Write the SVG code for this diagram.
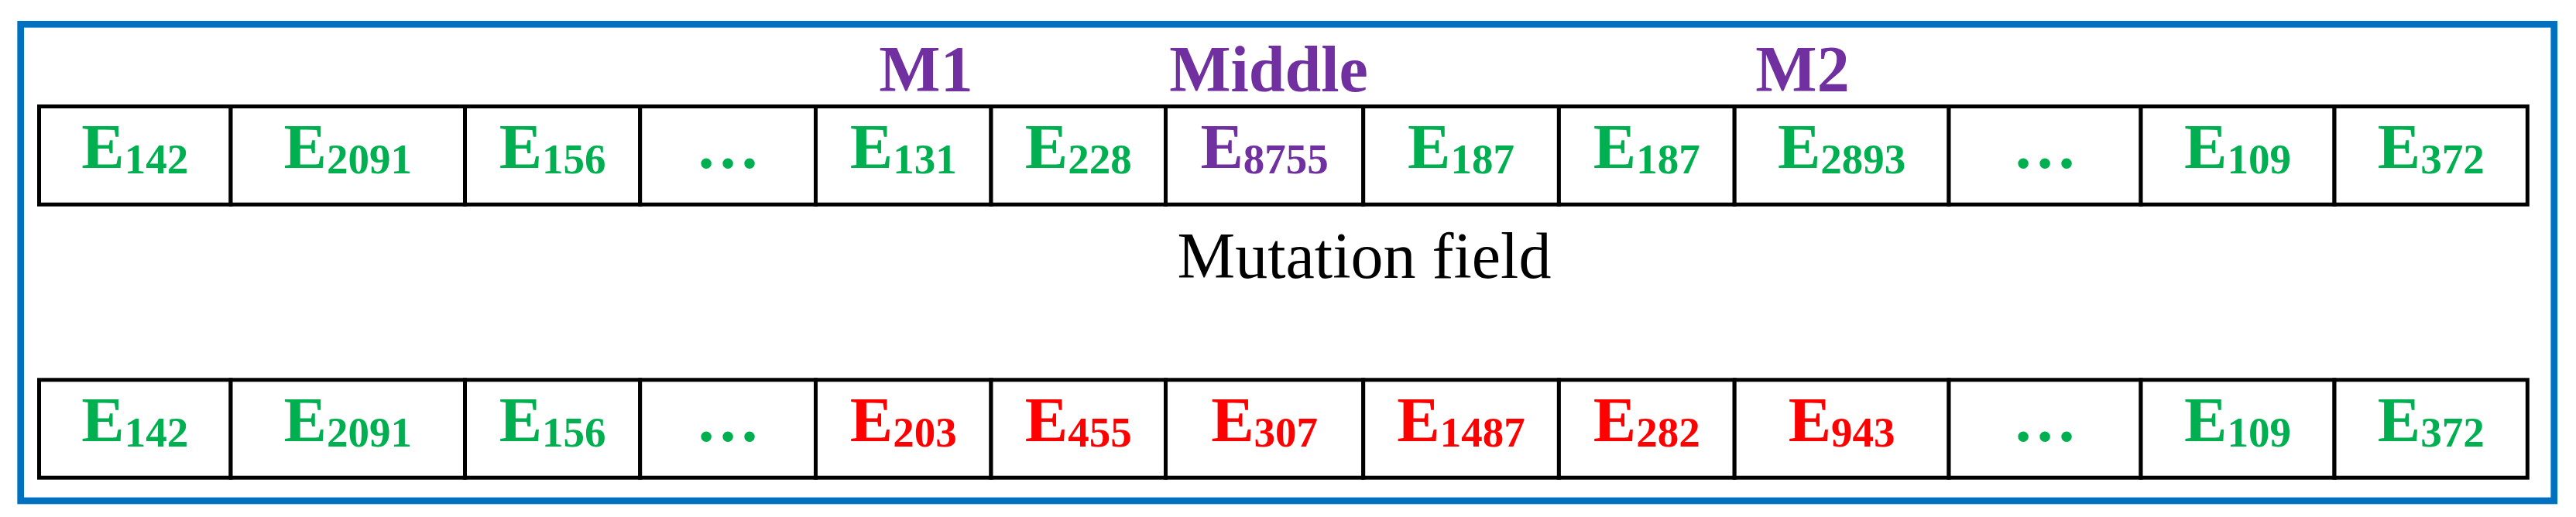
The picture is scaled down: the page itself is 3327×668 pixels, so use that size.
<svg xmlns="http://www.w3.org/2000/svg" width="3327" height="668" viewBox="0 0 3327 668">
<style>
.cell{fill:#FFFFFF;stroke:#000000;stroke-width:5}
.e{font-family:"Liberation Serif","Times New Roman",serif;font-weight:bold;font-size:83px;text-anchor:middle}
.sub{font-size:55px}
.g{fill:#00B050}
.r{fill:#FF0000}
.p{fill:#7030A0}
.lbl{font-family:"Liberation Serif","Times New Roman",serif;font-weight:bold;font-size:84px;text-anchor:middle;fill:#7030A0}
.cap{font-family:"Liberation Serif","Times New Roman",serif;font-size:84px;text-anchor:middle;fill:#000000}
</style>
<rect width="3327" height="668" fill="#FFFFFF"/>
<rect id="frame" x="26.7" y="31.3" width="3272" height="615.7" fill="none" stroke="#0070C0" stroke-width="8.7"/>
<g id="labels">
<text class="lbl" x="1196" y="118">M1</text>
<text class="lbl" x="1638.5" y="118">Middle</text>
<text class="lbl" x="2328" y="118">M2</text>
<text class="cap" x="1762" y="359">Mutation field</text>
</g>
<g id="row1">
<g id="r1c1"><rect class="cell" x="50.5" y="137.5" width="247.5" height="126.7"/><text class="e g" x="174.3" y="217">E<tspan class="sub" dy="7">142</tspan></text></g>
<g id="r1c2"><rect class="cell" x="298" y="137.5" width="302.5" height="126.7"/><text class="e g" x="449.3" y="217">E<tspan class="sub" dy="7">2091</tspan></text></g>
<g id="r1c3"><rect class="cell" x="600.5" y="137.5" width="226.2" height="126.7"/><text class="e g" x="713.6" y="217">E<tspan class="sub" dy="7">156</tspan></text></g>
<g id="r1c4"><rect class="cell" x="826.7" y="137.5" width="226.8" height="126.7"/><text class="e g" x="940" y="217">…</text></g>
<g id="r1c5"><rect class="cell" x="1053.5" y="137.5" width="226.5" height="126.7"/><text class="e g" x="1166.8" y="217">E<tspan class="sub" dy="7">131</tspan></text></g>
<g id="r1c6"><rect class="cell" x="1280" y="137.5" width="225.5" height="126.7"/><text class="e g" x="1392.8" y="217">E<tspan class="sub" dy="7">228</tspan></text></g>
<g id="r1c7"><rect class="cell" x="1505.5" y="137.5" width="255.2" height="126.7"/><text class="e p" x="1633.1" y="217">E<tspan class="sub" dy="7">8755</tspan></text></g>
<g id="r1c8"><rect class="cell" x="1760.7" y="137.5" width="252.7" height="126.7"/><text class="e g" x="1887" y="217">E<tspan class="sub" dy="7">187</tspan></text></g>
<g id="r1c9"><rect class="cell" x="2013.4" y="137.5" width="226.8" height="126.7"/><text class="e g" x="2126.8" y="217">E<tspan class="sub" dy="7">187</tspan></text></g>
<g id="r1c10"><rect class="cell" x="2240.2" y="137.5" width="276.8" height="126.7"/><text class="e g" x="2378.6" y="217">E<tspan class="sub" dy="7">2893</tspan></text></g>
<g id="r1c11"><rect class="cell" x="2517" y="137.5" width="248" height="126.7"/><text class="e g" x="2641" y="217">…</text></g>
<g id="r1c12"><rect class="cell" x="2765" y="137.5" width="250" height="126.7"/><text class="e g" x="2890" y="217">E<tspan class="sub" dy="7">109</tspan></text></g>
<g id="r1c13"><rect class="cell" x="3015" y="137.5" width="249.3" height="126.7"/><text class="e g" x="3139.7" y="217">E<tspan class="sub" dy="7">372</tspan></text></g>
</g>
<g id="row2">
<g id="r2c1"><rect class="cell" x="50.5" y="490.8" width="247.5" height="126.4"/><text class="e g" x="174.3" y="570">E<tspan class="sub" dy="7">142</tspan></text></g>
<g id="r2c2"><rect class="cell" x="298" y="490.8" width="302.5" height="126.4"/><text class="e g" x="449.3" y="570">E<tspan class="sub" dy="7">2091</tspan></text></g>
<g id="r2c3"><rect class="cell" x="600.5" y="490.8" width="226.2" height="126.4"/><text class="e g" x="713.6" y="570">E<tspan class="sub" dy="7">156</tspan></text></g>
<g id="r2c4"><rect class="cell" x="826.7" y="490.8" width="226.8" height="126.4"/><text class="e g" x="940" y="570">…</text></g>
<g id="r2c5"><rect class="cell" x="1053.5" y="490.8" width="226.5" height="126.4"/><text class="e r" x="1166.8" y="570">E<tspan class="sub" dy="7">203</tspan></text></g>
<g id="r2c6"><rect class="cell" x="1280" y="490.8" width="225.5" height="126.4"/><text class="e r" x="1392.8" y="570">E<tspan class="sub" dy="7">455</tspan></text></g>
<g id="r2c7"><rect class="cell" x="1505.5" y="490.8" width="255.2" height="126.4"/><text class="e r" x="1633.1" y="570">E<tspan class="sub" dy="7">307</tspan></text></g>
<g id="r2c8"><rect class="cell" x="1760.7" y="490.8" width="252.7" height="126.4"/><text class="e r" x="1887" y="570">E<tspan class="sub" dy="7">1487</tspan></text></g>
<g id="r2c9"><rect class="cell" x="2013.4" y="490.8" width="226.8" height="126.4"/><text class="e r" x="2126.8" y="570">E<tspan class="sub" dy="7">282</tspan></text></g>
<g id="r2c10"><rect class="cell" x="2240.2" y="490.8" width="276.8" height="126.4"/><text class="e r" x="2378.6" y="570">E<tspan class="sub" dy="7">943</tspan></text></g>
<g id="r2c11"><rect class="cell" x="2517" y="490.8" width="248" height="126.4"/><text class="e g" x="2641" y="570">…</text></g>
<g id="r2c12"><rect class="cell" x="2765" y="490.8" width="250" height="126.4"/><text class="e g" x="2890" y="570">E<tspan class="sub" dy="7">109</tspan></text></g>
<g id="r2c13"><rect class="cell" x="3015" y="490.8" width="249.3" height="126.4"/><text class="e g" x="3139.7" y="570">E<tspan class="sub" dy="7">372</tspan></text></g>
</g>
<g id="connectors"></g>
</svg>
